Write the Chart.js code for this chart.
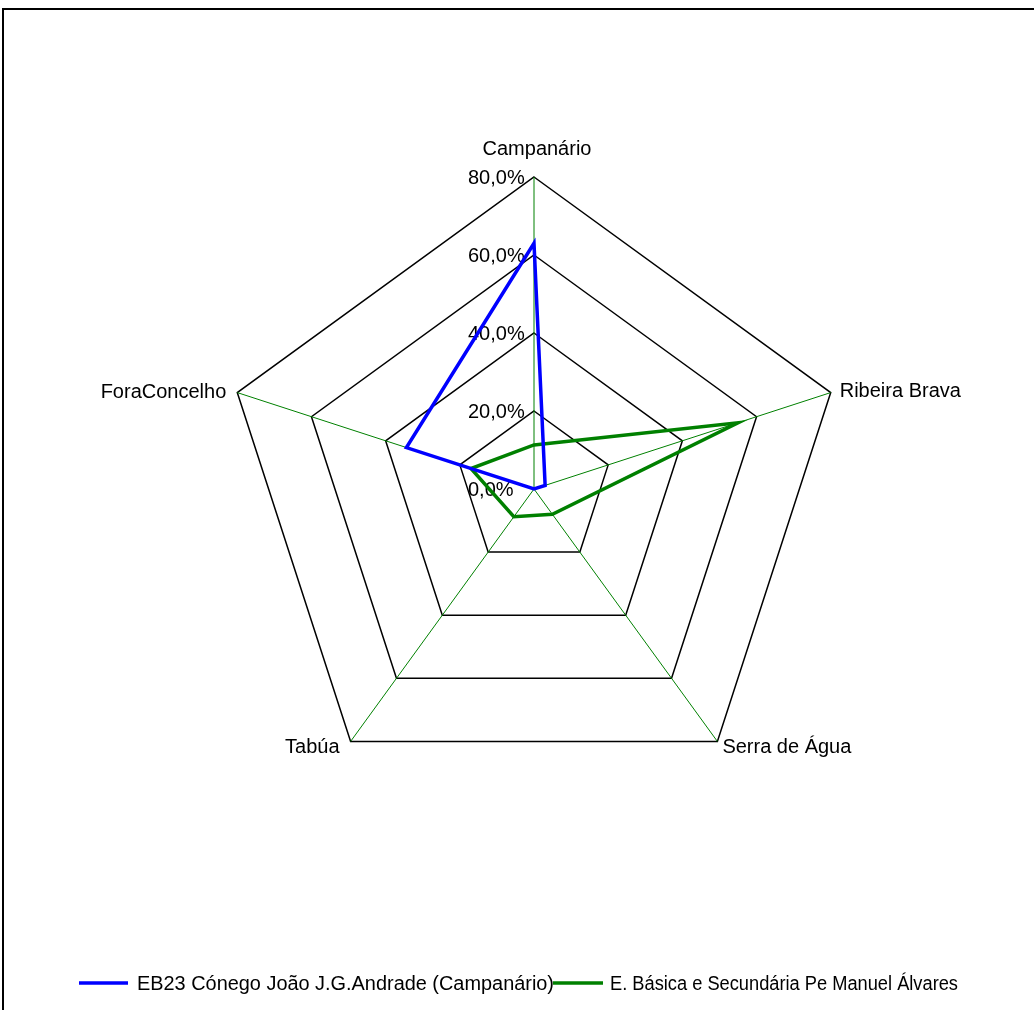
<!DOCTYPE html>
<html>
<head>
<meta charset="utf-8">
<script src="https://cdn.jsdelivr.net/npm/chart.js@4.4.0/dist/chart.umd.min.js"></script>
<style>
  html, body { margin: 0; padding: 0; background: #fff; overflow: hidden; }
  #wrap { position: absolute; left: 0; top: 0; width: 1034px; height: 1010px; }
</style>
</head>
<body>
<div id="wrap"><canvas id="radar-chart" width="1034" height="1010"></canvas></div>
<script>
// data (percent)
var categories = ["Campanário", "Ribeira Brava", "Serra de Água", "Tabúa", "ForaConcelho"];
var seriesNames = ["EB23 Cónego João J.G.Andrade (Campanário)", "E. Básica e Secundária Pe Manuel Álvares"];
var campanarioValues = [63.0, 3.0, 0.0, 0.0, 34.4];
var manuelAlvaresValues = [11.3, 55.0, 8.0, 8.8, 17.0];
var tickValues = [0, 20, 40, 60, 80];
var seriesColors = ["#0000ff", "#008000"];

var FONT = '20px "Liberation Sans", Arial, sans-serif';

function fmt(v) {
    return v.toFixed(1).replace('.', ',') + '%';
}

// label placement around the pentagon: [align, dx, dy(baseline)]
var labelPlace = [
    ['center', 3, -22],
    ['left', 9, 4],
    ['left', 5, 12],
    ['right', -11, 12],
    ['right', -11, 5]
];

var labelPlugin = {
    id: 'excelLabels',
    beforeDatasetsDraw: function(chart) {
        var ctx = chart.ctx, r = chart.scales.r;
        ctx.save();
        ctx.font = FONT;
        ctx.fillStyle = '#000';
        // tick labels
        ctx.textAlign = 'left';
        ctx.textBaseline = 'middle';
        tickValues.forEach(function(v) {
            var y = r.yCenter - r.getDistanceFromCenterForValue(v);
            ctx.fillText(fmt(v), r.xCenter - 66, y + 1);
        });
        // category labels
        ctx.textBaseline = 'alphabetic';
        var outer = r.getDistanceFromCenterForValue(tickValues[tickValues.length - 1]);
        categories.forEach(function(c, i) {
            var p = r.getPointPosition(i, outer);
            ctx.textAlign = labelPlace[i][0];
            ctx.fillText(c, p.x + labelPlace[i][1], p.y + labelPlace[i][2]);
        });
        ctx.restore();
    },
    afterDraw: function(chart) {
        var ctx = chart.ctx;
        ctx.save();
        // frame
        ctx.strokeStyle = '#000';
        ctx.lineWidth = 2;
        ctx.beginPath();
        ctx.moveTo(1034, 9);
        ctx.lineTo(3, 9);
        ctx.lineTo(3, 1010);
        ctx.stroke();
        // legend (text squeezed a bit like the original)
        ctx.font = FONT;
        ctx.fillStyle = '#000';
        ctx.textAlign = 'left';
        ctx.textBaseline = 'alphabetic';
        var lx = [[79, 128, 137, 417], [553, 603, 610, 348]];
        seriesNames.forEach(function(name, i) {
            var w = ctx.measureText(name).width;
            var sx = Math.min(1, lx[i][3] / w);
            ctx.save();
            ctx.translate(lx[i][2], 990);
            ctx.scale(sx, 1);
            ctx.fillText(name, 0, 0);
            ctx.restore();
        });
        seriesNames.forEach(function(name, i) {
            ctx.strokeStyle = seriesColors[i];
            ctx.lineWidth = 3.5;
            ctx.beginPath();
            ctx.moveTo(lx[i][0], 983);
            ctx.lineTo(lx[i][1], 983);
            ctx.stroke();
        });
        ctx.restore();
    }
};

new Chart(document.getElementById("radar-chart"), {
    type: 'radar',
    data: {
        labels: categories,
        datasets: [{
            label: seriesNames[0],
            data: campanarioValues,
            borderColor: seriesColors[0],
            fill: false
        }, {
            label: seriesNames[1],
            data: manuelAlvaresValues,
            borderColor: seriesColors[1],
            fill: false
        }]
    },
    options: {
        responsive: false,
        animation: false,
        layout: { padding: { left: 222, right: 188, top: 177, bottom: 209 } },
        plugins: {
            legend: { display: false },
            tooltip: { enabled: false }
        },
        elements: {
            line: { tension: 0, borderWidth: 3.5 },
            point: { radius: 0, hoverRadius: 0 }
        },
        scales: {
            r: {
                min: 0,
                max: 80,
                ticks: { stepSize: 20, display: false },
                pointLabels: { display: false },
                grid: { color: '#000', lineWidth: 1.5 },
                angleLines: { color: '#008000', lineWidth: 1 }
            }
        }
    },
    plugins: [labelPlugin]
});
</script>
</body>
</html>
